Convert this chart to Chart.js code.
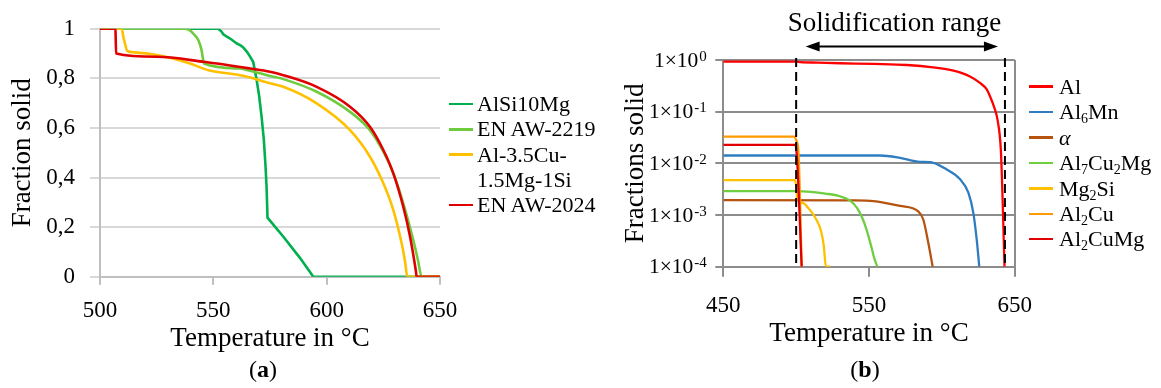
<!DOCTYPE html>
<html lang="en">
<head>
<meta charset="utf-8">
<title>Fraction solid</title>
<script src="https://cdn.jsdelivr.net/npm/chart.js@4.4.0/dist/chart.umd.min.js"></script>
<style>
	html, body { margin: 0; padding: 0; background: #fff; }
	body { position: relative; width: 1161px; height: 388px; overflow: hidden; font-family: 'Liberation Serif', 'Times New Roman', serif; color: #000; }
	canvas { position: absolute; top: 0; }
	#chart-a { left: 0; }
	#chart-b { left: 590px; }
	.legend { position: absolute; font-size: 22px; }
	.legend ul { list-style: none; margin: 0; padding: 0; }
	.legend li { position: relative; white-space: pre; }
	.legend .swatch { position: absolute; left: 0; top: 11.6px; width: 24px; height: 2.5px; }
	#legend-a { left: 449px; top: 91.2px; }
	#legend-a li { line-height: 25.3px; padding-left: 28px; }
	#legend-b { left: 1029px; top: 73.9px; }
	#legend-b li { line-height: 25.4px; padding-left: 30px; }
	sub { font-size: 14px; line-height: 0; vertical-align: -4px; }
	.caption { position: absolute; font-size: 24px; line-height: 24px; white-space: nowrap; transform: translateX(-50%); }
	#caption-a { left: 263px; top: 357px; }
	#caption-b { left: 865px; top: 357px; }
	#range-label { left: 894.5px; top: 9.1px; font-size: 27px; line-height: 27px; }
</style>
</head>
<body>
<canvas id="chart-a" width="590" height="388"></canvas>
<canvas id="chart-b" width="571" height="388"></canvas>
<div class="legend" id="legend-a"></div>
<div class="legend" id="legend-b"></div>
<div class="caption" id="caption-a">(<b>a</b>)</div>
<div class="caption" id="caption-b">(<b>b</b>)</div>
<div class="caption" id="range-label">Solidification range</div>
<script>
/* ==========================================================================
 Data (a): fraction solid vs temperature
 ========================================================================== */

const tempAlSi10Mg = [500, 552.2, 553.5, 554.4, 556, 558, 560.3, 562, 563.2, 565, 566.2, 567.6, 569, 570.2, 571.3, 572.3, 573, 573.5, 573.9, 580.9, 588.2, 594.1, 650];
const fsAlSi10Mg = [1, 1, 0.99, 0.978, 0.968, 0.957, 0.941, 0.933, 0.925, 0.905, 0.888, 0.866, 0.8, 0.73, 0.645, 0.55, 0.45, 0.36, 0.238, 0.161, 0.076, 0, 0];

const tempAW2219 = [500, 536.8, 539.5, 541.2, 543.4, 544.8, 545.4, 545.9, 561.8, 566.2, 575, 580.9, 595.6, 610.3, 619.1, 625, 629.4, 633.8, 638.2, 640.2, 641.9, 650];
const fsAW2219 = [1, 1, 0.995, 0.98, 0.954, 0.914, 0.88, 0.86, 0.84, 0.831, 0.81, 0.797, 0.746, 0.665, 0.591, 0.504, 0.417, 0.296, 0.148, 0.07, 0, 0];

const tempAl35Cu = [500, 509.6, 510.3, 511, 512, 515, 525, 539.7, 547.8, 561.8, 566.2, 575, 580.9, 595.6, 610.3, 619.1, 625, 629.4, 633.1, 634.6, 635.6, 650];
const fsAl35Cu = [1, 1, 0.968, 0.941, 0.911, 0.905, 0.894, 0.86, 0.833, 0.813, 0.804, 0.78, 0.766, 0.699, 0.591, 0.484, 0.377, 0.269, 0.134, 0.06, 0, 0];

const tempAW2024 = [500, 506.8, 507.1, 525, 545.6, 566.2, 575, 580.9, 595.6, 610.3, 619.1, 625, 629.4, 633.8, 636.8, 639.4, 639.7, 650];
const fsAW2024 = [1, 1, 0.9, 0.887, 0.867, 0.84, 0.827, 0.813, 0.766, 0.686, 0.605, 0.511, 0.417, 0.282, 0.161, 0.02, 0, 0];

const labelsA = ['AlSi10Mg', 'EN AW-2219', 'Al-3.5Cu-\n1.5Mg-1Si', 'EN AW-2024'];
const colorsA = ['#00B04F', '#6FCB3E', '#FFC000', '#E00000'];
const xTicksA = [500, 550, 600, 650];
const yTicksA = [0, 0.2, 0.4, 0.6, 0.8, 1];
const yTickLabelsA = ['0', '0,2', '0,4', '0,6', '0,8', '1'];

/* ==========================================================================
 Data (b): phase fractions (log scale)
 ========================================================================== */

const tempAl = [450, 500, 503, 515, 530, 553, 576, 594, 608, 619.3, 626.2, 630.8, 633, 636, 638.2, 640.5, 641.7, 643];
const fsAl = [0.93, 0.93, 0.91, 0.89, 0.865, 0.838, 0.8, 0.72, 0.62, 0.48, 0.36, 0.27, 0.2, 0.12, 0.07, 0.018, 0.002, 1e-4];

const tempAl6Mn = [450, 557.5, 571.3, 585, 591.9, 603.3, 612.5, 618.2, 621.6, 623.9, 625.7];
const fsAl6Mn = [0.0142, 0.0142, 0.0128, 0.0107, 0.0106, 0.0076, 0.0049, 0.0027, 0.0011, 0.00034, 1e-4];

const tempAlpha = [450, 540, 553, 571.3, 583.8, 587.3, 590.7, 593.7];
const fsAlpha = [0.00194, 0.00192, 0.00186, 0.0015, 0.00118, 0.00081, 0.00029, 1e-4];

const tempAl7Cu2Mg = [450, 500, 510, 520, 530, 537, 542, 546, 548.5, 551.5, 553.5, 555.7];
const fsAl7Cu2Mg = [0.00289, 0.00289, 0.0028, 0.0026, 0.00231, 0.0019, 0.00135, 0.0008, 0.0005, 0.00025, 0.00015, 1e-4];

const tempMg2Si = [450, 499.2, 500.2, 500.8, 505, 508, 511, 514, 517, 519, 520.4, 523.5];
const fsMg2Si = [0.00472, 0.00472, 0.0033, 0.002, 0.0017, 0.0014, 0.0011, 0.0008, 0.0005, 0.00025, 1e-4, 1e-4];

const tempAl2Cu = [450, 499, 500, 501.5, 503.8];
const fsAl2Cu = [0.0328, 0.0328, 0.028, 0.018, 1e-4];

const tempAl2CuMg = [450, 499.2, 500, 503.8];
const fsAl2CuMg = [0.0227, 0.0227, 0.02, 1e-4];

const labelsB = ['Al', 'Al6Mn', 'α', 'Al7Cu2Mg', 'Mg2Si', 'Al2Cu', 'Al2CuMg'];
const legendHtmlB = ['Al', 'Al<sub>6</sub>Mn', '<i>α</i>', 'Al<sub>7</sub>Cu<sub>2</sub>Mg', 'Mg<sub>2</sub>Si', 'Al<sub>2</sub>Cu', 'Al<sub>2</sub>CuMg'];
const colorsB = ['#FF0000', '#2F7DC1', '#B5530F', '#6FCE3F', '#FFC000', '#FF9A00', '#E00000'];
const xTicksB = [450, 550, 650];
const yTicksB = [1e-4, 1e-3, 1e-2, 1e-1, 1];
const yExpB = ['-4', '-3', '-2', '-1', '0'];
const solidRange = [500, 643.3];

/* ==========================================================================
 Helpers
 ========================================================================== */

const serif = "'Liberation Serif', 'Times New Roman', serif";
const tickFont = {family: serif, size: 23};
const titleFont = {family: serif, size: 27};

const toPoints = (temps, fracs) => temps.map((t, i) => ({x: t, y: fracs[i]}));

// straight: indexes of series drawn with plain segments (kinked curves)
const makeDatasets = (series, labels, colors, width, straight = []) => series.map((s, i) => ({
	label: labels[i],
	data: toPoints(s[0], s[1]),
	borderColor: colors[i],
	backgroundColor: colors[i],
	borderWidth: width,
	pointRadius: 0,
	fill: false,
	tension: 0,
	cubicInterpolationMode: straight.includes(i) ? 'default' : 'monotone',
	// last legend entry is drawn on top
	order: series.length - i,
}));

/* ==========================================================================
 HTML Legend
 ========================================================================== */

const getOrCreateLegendList = (id) => {
	const legendContainer = document.getElementById(id);
	let listContainer = legendContainer.querySelector('ul');

	if (!listContainer) {
		listContainer = document.createElement('ul');
		legendContainer.appendChild(listContainer);
	}

	return listContainer;
};

const htmlLegendPlugin = {
	id: 'htmlLegend',
	afterUpdate(chart, args, options) {
		const ul = getOrCreateLegendList(options.containerID);

		while (ul.firstChild) {
			ul.firstChild.remove();
		}

		chart.data.datasets.forEach((dataset, i) => {
			const li = document.createElement('li');

			const swatch = document.createElement('span');
			swatch.className = 'swatch';
			swatch.style.background = dataset.borderColor;
			li.appendChild(swatch);

			li.insertAdjacentHTML('beforeend', options.labels[i]);
			ul.appendChild(li);
		});
	}
};

/* ==========================================================================
 Log tick labels with superscripts, range markers
 ========================================================================== */

const powerTicksPlugin = {
	id: 'powerTicks',
	afterDraw(chart) {
		const scale = chart.scales.y;
		const ctx = chart.ctx;
		const right = scale.right - 16.5;

		ctx.save();
		ctx.fillStyle = '#000';
		ctx.textAlign = 'left';
		ctx.textBaseline = 'alphabetic';

		scale.ticks.forEach((tick, i) => {
			const y = scale.getPixelForValue(tick.value);
			const base = '1×10';
			const exp = yExpB[i];

			ctx.font = '15px ' + serif;
			const expWidth = ctx.measureText(exp).width;
			ctx.font = '21.5px ' + serif;
			const baseWidth = ctx.measureText(base).width;

			ctx.fillText(base, right - expWidth - baseWidth - 1, y + 6.5);
			ctx.font = '15px ' + serif;
			ctx.fillText(exp, right - expWidth, y + 0.5);
		});

		ctx.restore();
	}
};

const rangePlugin = {
	id: 'solidRange',
	afterDatasetsDraw(chart) {
		const {ctx, chartArea, scales: {x}} = chart;
		const x1 = x.getPixelForValue(solidRange[0]);
		const x2 = x.getPixelForValue(solidRange[1]);

		ctx.save();
		ctx.strokeStyle = '#000';
		ctx.fillStyle = '#000';
		ctx.lineWidth = 2;

		// Dashed bounds
		ctx.setLineDash([9, 5]);
		[x1, x2].forEach(px => {
			ctx.beginPath();
			ctx.moveTo(px, chartArea.top - 2);
			ctx.lineTo(px, chartArea.bottom);
			ctx.stroke();
		});

		// Double arrow
		ctx.setLineDash([]);
		const ay = chartArea.top - 13.5;
		const a1 = x1 + 9.5;
		const a2 = x2 - 7;
		ctx.beginPath();
		ctx.moveTo(a1 + 10, ay);
		ctx.lineTo(a2 - 10, ay);
		ctx.stroke();

		ctx.beginPath();
		ctx.moveTo(a1, ay);
		ctx.lineTo(a1 + 14, ay - 5);
		ctx.lineTo(a1 + 14, ay + 5);
		ctx.closePath();
		ctx.fill();

		ctx.beginPath();
		ctx.moveTo(a2, ay);
		ctx.lineTo(a2 - 14, ay - 5);
		ctx.lineTo(a2 - 14, ay + 5);
		ctx.closePath();
		ctx.fill();

		ctx.restore();
	}
};

/* ==========================================================================
 Config (a)
 ========================================================================== */

const configA = {
	type: 'line',
	data: {
		datasets: makeDatasets([
			[tempAlSi10Mg, fsAlSi10Mg],
			[tempAW2219, fsAW2219],
			[tempAl35Cu, fsAl35Cu],
			[tempAW2024, fsAW2024],
		], labelsA, colorsA, 2.6, [0]),
	},
	options: {
		responsive: false,
		animation: false,
		events: [],
		layout: {
			padding: {top: 28.7, right: 150, bottom: 0, left: 0},
		},
		scales: {
			x: {
				type: 'linear',
				min: 500,
				max: 650,
				afterBuildTicks: scale => { scale.ticks = xTicksA.map(v => ({value: v})); },
				afterFit: scale => { scale.height = 111.3; },
				ticks: {font: tickFont, color: '#000', padding: 12.4, maxRotation: 0},
				grid: {drawOnChartArea: false, tickLength: 8, color: '#bfbfbf', lineWidth: 2},
				border: {color: '#bfbfbf', width: 2},
				title: {
					display: true,
					text: 'Temperature in °C',
					font: titleFont,
					color: '#000',
					padding: {top: 0, bottom: 32.9},
				},
			},
			y: {
				min: 0,
				max: 1,
				afterBuildTicks: scale => { scale.ticks = yTicksA.map(v => ({value: v})); },
				afterFit: scale => { scale.width = 100; },
				ticks: {
					font: tickFont,
					color: '#000',
					padding: 15,
					callback: (value, index) => yTickLabelsA[index],
				},
				grid: {color: '#d9d9d9', lineWidth: 2, tickLength: 10},
				border: {color: '#bfbfbf', width: 2},
				title: {
					display: true,
					text: 'Fraction solid',
					font: titleFont,
					color: '#000',
					padding: {top: 6.4, bottom: 0},
				},
			},
		},
		plugins: {
			legend: {display: false},
			tooltip: {enabled: false},
			htmlLegend: {containerID: 'legend-a', labels: labelsA},
		},
	},
	plugins: [htmlLegendPlugin],
};

/* ==========================================================================
 Config (b)
 ========================================================================== */

const gridGrey = '#8c8c8c';

const configB = {
	type: 'line',
	data: {
		datasets: makeDatasets([
			[tempAl, fsAl],
			[tempAl6Mn, fsAl6Mn],
			[tempAlpha, fsAlpha],
			[tempAl7Cu2Mg, fsAl7Cu2Mg],
			[tempMg2Si, fsMg2Si],
			[tempAl2Cu, fsAl2Cu],
			[tempAl2CuMg, fsAl2CuMg],
		], labelsB, colorsB, 2.3),
	},
	options: {
		responsive: false,
		animation: false,
		events: [],
		layout: {
			padding: {top: 60, right: 146.3, bottom: 0, left: 0},
		},
		scales: {
			x: {
				type: 'linear',
				min: 450,
				max: 650,
				afterBuildTicks: scale => { scale.ticks = xTicksB.map(v => ({value: v})); },
				afterFit: scale => { scale.height = 121.3; },
				ticks: {font: tickFont, color: '#000', padding: 15.5, maxRotation: 0},
				grid: {
					// only the plot edges get a full line, the middle value keeps its tick mark
					color: ctx => (ctx.tick && ctx.tick.value === 550 ? 'rgba(0,0,0,0)' : gridGrey),
					tickColor: gridGrey,
					tickLength: 10,
					lineWidth: 2,
				},
				border: {color: gridGrey, width: 2},
				title: {
					display: true,
					text: 'Temperature in °C',
					font: titleFont,
					color: '#000',
					padding: {top: 0, bottom: 38},
				},
			},
			y: {
				type: 'logarithmic',
				min: 1e-4,
				max: 1,
				afterBuildTicks: scale => { scale.ticks = yTicksB.map(v => ({value: v})); },
				afterFit: scale => { scale.width = 133.3; },
				ticks: {display: false},
				grid: {color: gridGrey, lineWidth: 2, tickLength: 8},
				border: {color: gridGrey, width: 2},
				title: {
					display: true,
					text: 'Fractions solid',
					font: titleFont,
					color: '#000',
					padding: {top: 30, bottom: 0},
				},
			},
		},
		plugins: {
			legend: {display: false},
			tooltip: {enabled: false},
			htmlLegend: {containerID: 'legend-b', labels: legendHtmlB},
		},
	},
	plugins: [htmlLegendPlugin, powerTicksPlugin, rangePlugin],
};

/* ==========================================================================
 Render
 ========================================================================== */

const chartA = new Chart(document.getElementById('chart-a'), configA);
const chartB = new Chart(document.getElementById('chart-b'), configB);
</script>
</body>
</html>
